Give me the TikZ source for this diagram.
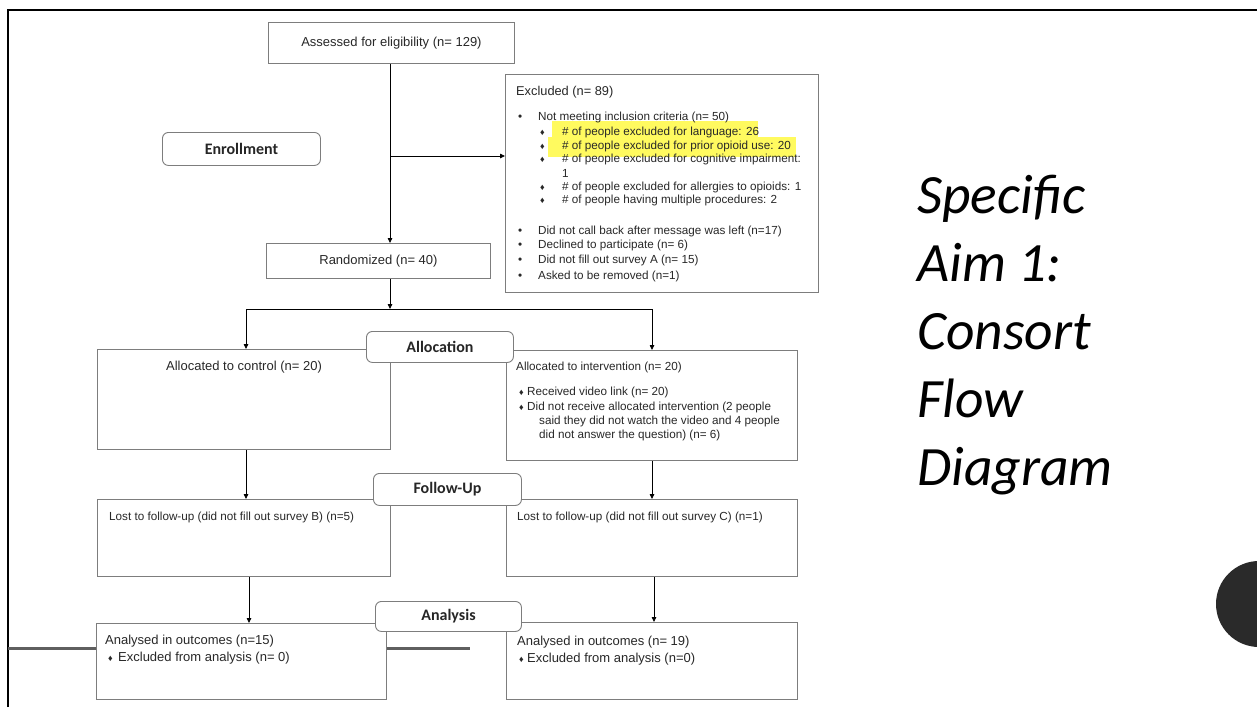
\documentclass[tikz,border=0pt]{standalone}
\usepackage{fontspec}
\setmainfont{Liberation Sans}
\newfontfamily\calibri{Carlito}
\usetikzlibrary{arrows.meta}
\definecolor{boxgray}{RGB}{125,125,125}
\definecolor{txt}{RGB}{40,40,40}
\definecolor{hl}{RGB}{255,250,95}
\definecolor{dot}{RGB}{42,42,42}
\definecolor{midgray}{RGB}{95,95,95}
\newcommand{\fsA}{\fontsize{13}{15}\selectfont}
\newcommand{\fsB}{\fontsize{11.7}{14}\selectfont}
\newcommand{\fsC}{\fontsize{12.8}{15}\selectfont}
\newcommand{\sbul}{{\fontsize{9}{9}\selectfont ♦}}
\begin{document}
\begin{tikzpicture}[x=1pt,y=-1pt,
  box/.style={draw=boxgray,fill=white,line width=0.9pt,inner sep=0pt,anchor=north west,text=txt},
  phase/.style={draw=boxgray,fill=white,line width=0.9pt,rounded corners=6pt,inner sep=0pt,anchor=north west,font=\calibri\bfseries\fontsize{16}{18}\selectfont,text=black!85},
  lbl/.style={anchor=west,inner sep=0pt,text=txt,font=\fsB},
  arr/.style={-{Triangle[length=5pt,width=4.5pt]},line width=0.8pt,black},
  conn/.style={line width=0.8pt,black},
  title/.style={anchor=base west,inner sep=0pt,font=\calibri\itshape\fontsize{55.5}{68}\selectfont,text=black}]

\useasboundingbox (0,0) rectangle (1257,707);
\fill[white] (0,0) rectangle (1257,707);

% slide frame and stray rule
\draw[line width=2pt] (8,707) -- (8,10) -- (1257,10);
\draw[midgray,line width=3pt] (8,648) -- (470,648);

% boxes
\node[box,minimum width=246pt,minimum height=41pt,font=\fsA] (asmt) at (268,22) {Assessed for eligibility (n= 129)};
\node[phase,minimum width=158pt,minimum height=33pt] (enrol) at (162,132) {Enrollment};
\node[box,minimum width=313pt,minimum height=218pt] (excl) at (505,74) {};
\node[box,minimum width=224pt,minimum height=35pt,font=\fsA] (rand) at (266,243) {Randomized (n= 40)};
\node[box,minimum width=293pt,minimum height=100pt] (ctrl) at (97,349) {};
\node[box,minimum width=291pt,minimum height=110pt] (intv) at (506,350) {};
\node[box,minimum width=293pt,minimum height=77pt] (lostL) at (97,499) {};
\node[box,minimum width=291pt,minimum height=77pt] (lostR) at (506,499) {};
\node[box,minimum width=290pt,minimum height=76pt] (anaL) at (96,623) {};
\node[box,minimum width=291pt,minimum height=77pt] (anaR) at (506,622) {};

% phase labels
\node[phase,minimum width=147pt,minimum height=31pt] (alloc) at (366,331) {Allocation};
\node[phase,minimum width=148pt,minimum height=32pt] (fup) at (373,473) {Follow-Up};
\node[phase,minimum width=146pt,minimum height=30pt] (anal) at (375,601) {Analysis};

% highlights
\fill[hl] (552,121) rectangle (758,137);
\fill[hl] (548,137) rectangle (796,157);

% excluded contents
\node[lbl,font=\fsC] (ex0) at (516,92) {Excluded (n= 89)};
\node[lbl] (ex1) at (518,117) {\makebox[20pt][l]{•}Not meeting inclusion criteria (n= 50)};
\node[lbl] (ex2) at (540,132) {\makebox[22pt][l]{\sbul}\# of people excluded for language: 26};
\node[lbl] (ex3) at (540,146) {\makebox[22pt][l]{\sbul}\# of people excluded for prior opioid use: 20};
\node[lbl] (ex4) at (540,159) {\makebox[22pt][l]{\sbul}\# of people excluded for cognitive impairment:};
\node[lbl] (ex5) at (562,173) {1};
\node[lbl] (ex6) at (540,187) {\makebox[22pt][l]{\sbul}\# of people excluded for allergies to opioids: 1};
\node[lbl] (ex7) at (540,200) {\makebox[22pt][l]{\sbul}\# of people having multiple procedures: 2};
\node[lbl] (ex8) at (518,231) {\makebox[20pt][l]{•}Did not call back after message was left (n=17)};
\node[lbl] (ex9) at (518,245) {\makebox[20pt][l]{•}Declined to participate (n= 6)};
\node[lbl] (ex10) at (518,260) {\makebox[20pt][l]{•}Did not fill out survey A (n= 15)};
\node[lbl] (ex11) at (518,276) {\makebox[20pt][l]{•}Asked to be removed (n=1)};

% allocation contents
\node[anchor=center,inner sep=0pt,font=\fsA,text=txt] (ctrlT) at (244,367) {Allocated to control (n= 20)};
\node[lbl] (iv0) at (516,367) {Allocated to intervention (n= 20)};
\node[lbl] (iv1) at (519,392) {\makebox[8pt][l]{\sbul}Received video link (n= 20)};
\node[lbl] (iv2) at (519,407) {\makebox[8pt][l]{\sbul}Did not receive allocated intervention (2 people};
\node[lbl] (iv3) at (539,421) {said they did not watch the video and 4 people};
\node[lbl] (iv4) at (539,435) {did not answer the question) (n= 6)};

% follow-up contents
\node[lbl] (lL) at (109,517) {Lost to follow-up (did not fill out survey B) (n=5)};
\node[lbl] (lR) at (517,517) {Lost to follow-up (did not fill out survey C) (n=1)};

% analysis contents
\node[lbl,font=\fsA] (aL0) at (105,641) {Analysed in outcomes (n=15)};
\node[lbl,font=\fsA] (aL1) at (108,658) {\makebox[10pt][l]{\sbul}Excluded from analysis (n= 0)};
\node[lbl,font=\fsA] (aR0) at (517,642) {Analysed in outcomes (n= 19)};
\node[lbl,font=\fsA] (aR1) at (519,659) {\makebox[8pt][l]{\sbul}Excluded from analysis (n=0)};

% connectors
\coordinate (br) at (390,156);
\draw[conn] (asmt.south -| br) -- (br);
\draw[arr] (br) -- (br |- rand.north);
\draw[arr] (br) -- (br -| excl.west);
\coordinate (split) at (390,309);
\draw[arr] (br |- rand.south) -- (split);
\coordinate (sl) at (246,309);
\coordinate (sr) at (652,309);
\draw[conn] (sl) -- (sr);
\draw[arr] (sl) -- (sl |- ctrl.north);
\draw[arr] (sr) -- (sr |- intv.north);
\draw[arr] (sl |- ctrl.south) -- (sl |- lostL.north);
\draw[arr] (sr |- intv.south) -- (sr |- lostR.north);
\coordinate (cl) at (249,0);
\coordinate (cr) at (654,0);
\draw[arr] (cl |- lostL.south) -- (cl |- anaL.north);
\draw[arr] (cr |- lostR.south) -- (cr |- anaR.north);

% title
\node[title] (t1) at (917,213) {Specific};
\node[title] (t2) at (917,281) {Aim 1:};
\node[title] (t3) at (917,349) {Consort};
\node[title] (t4) at (917,417) {Flow};
\node[title] (t5) at (917,485) {Diagram};

% slide decoration
\fill[dot] (1259,604) circle (43pt);
\end{tikzpicture}
\end{document}
